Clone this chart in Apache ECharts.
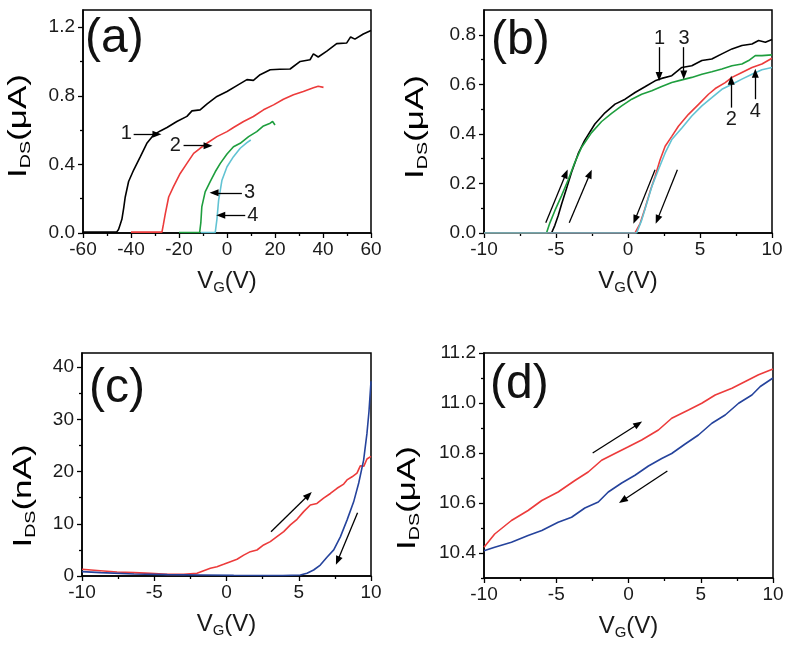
<!DOCTYPE html>
<html><head><meta charset="utf-8">
<script src="https://cdn.jsdelivr.net/npm/echarts@6/dist/echarts.min.js"></script>
<style>html,body{margin:0;padding:0;background:#fff}#c{width:790px;height:652px}</style>
</head><body><div id="c"></div>
<script>
// ---------- Panel (a) ----------
const a1x = [-60,-46,-45.2,-44.5,-43.8,-43,-42.4,-41,-38.9,-36.1,-33.4,-30.6,-27.8,-25,-20.9,-16.7,-14.6,-11.2,-8.4,-4.2,0,4.1,8.3,11,13.8,18,22,26.3,30.5,34.6,36,38,41.6,45.7,49.9,51.5,53.3,56.8,60];
const a1y = [0.005,0.005,0.02,0.05,0.08,0.15,0.21,0.30,0.367,0.445,0.523,0.572,0.595,0.615,0.65,0.68,0.712,0.718,0.751,0.796,0.825,0.859,0.894,0.89,0.923,0.952,0.955,0.956,1.0,1.01,1.044,1.026,1.06,1.104,1.108,1.143,1.13,1.16,1.18];
const a2x = [-40,-27.1,-26.5,-25.7,-24.3,-22.3,-19.5,-16.7,-13.9,-11.2,-8.4,-4.2,0,2.7,6.9,11,15.2,19.4,23.5,27.7,31.8,36,38,40.2];
const a2y = [0.005,0.005,0.05,0.113,0.21,0.27,0.347,0.406,0.464,0.494,0.523,0.562,0.591,0.615,0.65,0.679,0.718,0.747,0.78,0.806,0.825,0.847,0.855,0.849];
const a3x = [-20,-11.4,-10.9,-10.5,-9.1,-7,-4.9,-2.8,0,2.7,5.5,9,12.4,15.2,18,19,20];
const a3y = [0.003,0.003,0.06,0.152,0.24,0.3,0.357,0.406,0.46,0.503,0.523,0.562,0.591,0.624,0.64,0.65,0.63];
const a4x = [-11,-4.9,-4.2,-3.5,-2.1,0,2.7,5.5,8.3,9.9];
const a4y = [0.003,0.003,0.08,0.19,0.308,0.386,0.445,0.494,0.527,0.542];
const aYTicks = [0, 0.4, 0.8, 1.2];
const aYMinor = [0.2, 0.6, 1.0];

// ---------- Panel (b) ----------
const b1x = [-10,-5.31,-5.08,-4.85,-4.62,-4.27,-3.92,-3.46,-3.0,-2.3,-1.6,-0.9,-0.2,0.49,1.18,1.88,2.34,3.04,3.74,4.43,5.13,5.82,6.52,7.22,7.91,8.61,9.07,9.54,10];
const b1y = [0,0,0.031,0.07,0.115,0.18,0.245,0.32,0.375,0.44,0.485,0.52,0.54,0.567,0.59,0.614,0.624,0.635,0.668,0.675,0.696,0.702,0.723,0.743,0.757,0.763,0.777,0.77,0.781];
const b3x = [-10,-5.66,-5.43,-5.08,-4.62,-4.15,-3.69,-3.23,-2.53,-1.83,-1.14,-0.44,0.26,0.95,1.65,2.34,3.04,3.74,4.43,5.13,5.82,6.52,7.22,7.91,8.38,8.84,9.3,10];
const b3y = [0,0,0.04,0.09,0.15,0.215,0.285,0.345,0.405,0.45,0.483,0.513,0.54,0.56,0.574,0.591,0.607,0.618,0.628,0.641,0.651,0.662,0.675,0.682,0.696,0.716,0.716,0.719];
const b2x = [-10,0.49,0.84,1.18,1.53,1.88,2.23,2.58,3.04,3.5,4.2,4.9,5.59,6.06,6.75,7.22,7.91,8.61,9.3,10];
const b2y = [0,0,0.038,0.099,0.167,0.228,0.296,0.35,0.39,0.431,0.479,0.519,0.56,0.583,0.607,0.628,0.648,0.668,0.682,0.705];
const b4x = [-10,0.6,0.95,1.3,1.65,2.11,2.58,3.04,3.74,4.43,5.13,5.82,6.52,7.22,7.91,8.61,9.3,10];
const b4y = [0,0,0.052,0.119,0.187,0.255,0.323,0.377,0.424,0.472,0.513,0.546,0.58,0.6,0.621,0.641,0.659,0.668];
const bYTicks = [0, 0.2, 0.4, 0.6, 0.8];
const bYMinor = [0.1, 0.3, 0.5, 0.7];

// ---------- Panel (c) ----------
const cRx = [-10,-8.73,-7.58,-6.4,-5.27,-4.1,-2.96,-2.04,-1.58,-1.12,-0.66,-0.2,0.27,0.73,1.19,1.65,2.11,2.57,3.03,3.49,3.96,4.42,4.88,5.34,5.8,6.26,6.72,7.19,7.65,8.11,8.34,8.69,9.03,9.26,9.5,9.72,10];
const cRy = [1.28,1.02,0.77,0.64,0.51,0.32,0.32,0.51,1.02,1.47,1.79,2.24,2.75,3.2,4.0,4.66,4.98,5.94,6.58,7.54,8.5,9.78,10.86,12.33,13.6,13.9,14.9,15.8,16.8,17.6,18.4,19.0,19.7,21.1,21.0,22.4,22.9];
const cBx = [-10,-8.7,-6.4,-4.1,-1.8,0.5,2.8,3.9,5.11,5.57,6.03,6.49,6.95,7.42,7.88,8.34,8.8,9.15,9.49,9.72,9.86,10];
const cBy = [0.83,0.64,0.38,0.26,0.19,0.13,0.1,0.1,0.19,0.51,1.15,2.1,3.6,5.0,7.5,10.7,14.2,17.8,22.2,27.3,31.5,37.3];
const cYTicks = [0, 10, 20, 30, 40];
const cYMinor = [5, 15, 25, 35];

// ---------- Panel (d) ----------
const dRx = [-10,-9.26,-8.1,-6.95,-6.0,-4.87,-3.71,-2.79,-1.86,-0.94,-0.01,0.91,2.07,2.99,4.15,5.07,6.0,7.16,8.08,9.0,10];
const dRy = [10.423,10.476,10.53,10.57,10.61,10.644,10.69,10.724,10.771,10.798,10.825,10.852,10.892,10.939,10.972,10.999,11.032,11.059,11.086,11.113,11.136];
const dBx = [-10,-9.26,-8.1,-6.95,-6.0,-4.87,-3.94,-3.02,-2.09,-1.4,-0.47,0.45,1.38,2.3,2.99,3.92,4.84,5.77,6.69,7.62,8.54,9.12,10];
const dBy = [10.409,10.423,10.443,10.47,10.49,10.523,10.543,10.58,10.604,10.644,10.68,10.711,10.748,10.778,10.798,10.836,10.872,10.919,10.952,10.999,11.032,11.066,11.1];
const dYTicks = [10.4, 10.6, 10.8, 11.0, 11.2];
const dYMinor = [10.3, 10.5, 10.7, 10.9, 11.1];

// ---------- Annotations (data coordinates) ----------
const arrowsA = [[[-38.9,0.576],[-29.2,0.576]],[[-18.1,0.509],[-7.9,0.509]],[[6.2,0.234],[-5.4,0.234]],[[7.6,0.103],[-2.6,0.103]]];
const numsA = [['1',-42,0.58],['2',-21.5,0.51],['3',9.4,0.234],['4',10.8,0.103]];
const arrowsB = [[[2.16,0.75],[2.16,0.632]],[[3.87,0.75],[3.87,0.638]],[[7.17,0.506],[7.17,0.616]],[[8.84,0.54],[8.84,0.645]],
  [[-5.71,0.041],[-4.31,0.239]],[[-4.08,0.041],[-2.64,0.239]],[[1.88,0.255],[0.49,0.054]],[[3.43,0.255],[2.04,0.054]]];
const numsB = [['1',2.2,0.787],['3',3.9,0.787],['2',7.17,0.458],['4',8.84,0.49]];
const arrowsC = [[[3.08,8.49],[5.68,15.5]],[[9.07,12.13],[7.69,2.93]]];
const arrowsD = [[[-2.48,10.8],[0.68,10.916]],[[2.69,10.728],[-0.40,10.61]]];

const FONT = 'Liberation Sans, Arial, sans-serif';
const zip = (xs, ys) => xs.map((x, i) => [x, ys[i]]);
const axisLine = {show: true, onZero: false, lineStyle: {color: '#000', width: 1.5}};
const tickStyle = {color: '#000', width: 1.3};

const grids = [
  {left: 83, top: 10, width: 288, height: 223},
  {left: 484, top: 10, width: 288, height: 223},
  {left: 82, top: 353, width: 289, height: 223},
  {left: 484, top: 353, width: 289, height: 225}
].map(g => Object.assign(g, {show: true, borderColor: '#000', borderWidth: 1.5, backgroundColor: '#fff'}));

const nameRich = {
  v: {fontSize: 24, fontFamily: FONT, color: '#1a1a1a', lineHeight: 28},
  s: {fontSize: 15, fontFamily: FONT, color: '#1a1a1a', lineHeight: 28, verticalAlign: 'bottom', padding: [11, 0, 0, 0]}
};
const yRich = {
  v: {fontSize: 25, fontFamily: FONT, color: '#2a2a2a', lineHeight: 28},
  s: {fontSize: 14, fontFamily: FONT, color: '#2a2a2a', lineHeight: 28, verticalAlign: 'bottom', padding: [11, 0, 0, 0]}
};

function xAxis(gi, min, max, interval) {
  return {
    type: 'value', gridIndex: gi, min, max, interval,
    axisLine, axisTick: {show: true, inside: false, length: 5, lineStyle: tickStyle},
    minorTick: {show: true, splitNumber: 2, length: 3, lineStyle: tickStyle},
    splitLine: {show: false}, minorSplitLine: {show: false},
    axisLabel: {fontSize: 19, fontFamily: FONT, color: '#1a1a1a', margin: 7},
    name: '{v|V}{s|G}{v|(V)}', nameLocation: 'middle', nameGap: 34,
    nameTextStyle: {rich: nameRich}
  };
}
function yAxes(gi, min, max, majors, minors, fmt) {
  return [{
    type: 'value', gridIndex: gi, min, max, position: 'left', offset: 0,
    axisLine, axisTick: {show: true, inside: false, length: 5, lineStyle: tickStyle, customValues: majors},
    splitLine: {show: false},
    axisLabel: {fontSize: 19, fontFamily: FONT, color: '#1a1a1a', margin: 8, customValues: majors, formatter: fmt}
  }, {
    type: 'value', gridIndex: gi, min, max, position: 'left', offset: 0,
    axisLine: {show: false, onZero: false}, axisTick: {show: true, inside: false, length: 3, lineStyle: tickStyle, customValues: minors},
    axisLabel: {show: false}, splitLine: {show: false}
  }];
}

const xAxes = [xAxis(0, -60, 60, 20), xAxis(1, -10, 10, 5), xAxis(2, -10, 10, 5), xAxis(3, -10, 10, 5)];
const yAx = [].concat(
  yAxes(0, 0, 1.3, aYTicks, aYMinor, v => v.toFixed(1)),
  yAxes(1, 0, 0.9, bYTicks, bYMinor, v => v.toFixed(1)),
  yAxes(2, 0, 42.7, cYTicks, cYMinor, v => String(v)),
  yAxes(3, 10.3, 11.2, dYTicks, dYMinor, v => v.toFixed(1))
);

function line(gi, xs, ys, color, extra) {
  return Object.assign({
    type: 'line', xAxisIndex: gi, yAxisIndex: gi * 2, data: zip(xs, ys),
    showSymbol: false, symbol: 'none', silent: true, animation: false,
    lineStyle: {color, width: 1.6}, itemStyle: {color}, z: 2
  }, extra || {});
}
function marks(arrows, nums) {
  const o = {
    markLine: {
      silent: true, animation: false, symbol: ['none', 'triangle'], symbolSize: [7, 9],
      label: {show: false}, lineStyle: {color: '#000', width: 1.3, type: 'solid'},
      emphasis: {disabled: true},
      data: arrows.map(a => [{coord: a[0]}, {coord: a[1]}])
    }
  };
  if (nums) o.markPoint = {
    silent: true, animation: false, symbol: 'circle', symbolSize: 1,
    itemStyle: {color: 'rgba(0,0,0,0)'},
    label: {show: true, position: 'inside', fontSize: 20, fontFamily: FONT, color: '#1a1a1a', formatter: p => p.name},
    data: nums.map(n => ({name: n[0], coord: [n[1], n[2]]}))
  };
  return o;
}

const RED = '#ec3b3b', GREEN = '#1e9e3e', CYAN = '#62c3d3', BLACK = '#000', BLUE = '#25439c';
const series = [
  line(0, a1x, a1y, BLACK, marks(arrowsA, numsA)),
  line(0, a2x, a2y, RED),
  line(0, a4x, a4y, CYAN),
  line(0, a3x, a3y, GREEN),
  line(1, b1x, b1y, BLACK, marks(arrowsB, numsB)),
  line(1, b3x, b3y, GREEN),
  line(1, b2x, b2y, RED),
  line(1, b4x, b4y, CYAN),
  line(2, cRx, cRy, RED, marks(arrowsC)),
  line(2, cBx, cBy, BLUE),
  line(3, dRx, dRy, RED, marks(arrowsD)),
  line(3, dBx, dBy, BLUE)
];

// rotated y-axis titles (text elements, stretched along the reading direction like the original)
const yTitles = [['μA', 19, 126], ['μA', 416, 127], ['nA', 24, 496], ['μA', 408, 498]].map(t => ({
  type: 'text', x: t[1], y: t[2], rotation: Math.PI / 2, scaleX: 1.4, scaleY: 1,
  silent: true,
  style: {text: '{v|I}{s|DS}{v|(' + t[0] + ')}', rich: yRich, align: 'center', verticalAlign: 'middle'}
}));

const labelStyle = {fontSize: 48, fontFamily: FONT, fontWeight: 'normal', color: '#111'};
const chart = echarts.init(document.getElementById('c'), null, {renderer: 'canvas'});
chart.setOption({
  animation: false,
  backgroundColor: '#fff',
  title: [
    {text: '(a)', left: 80, top: 10, textStyle: labelStyle},
    {text: '(b)', left: 486, top: 12, textStyle: labelStyle},
    {text: '(c)', left: 84, top: 360, textStyle: labelStyle},
    {text: '(d)', left: 485, top: 356, textStyle: labelStyle}
  ],
  grid: grids,
  xAxis: xAxes,
  yAxis: yAx,
  graphic: yTitles,
  series
});
</script></body></html>
